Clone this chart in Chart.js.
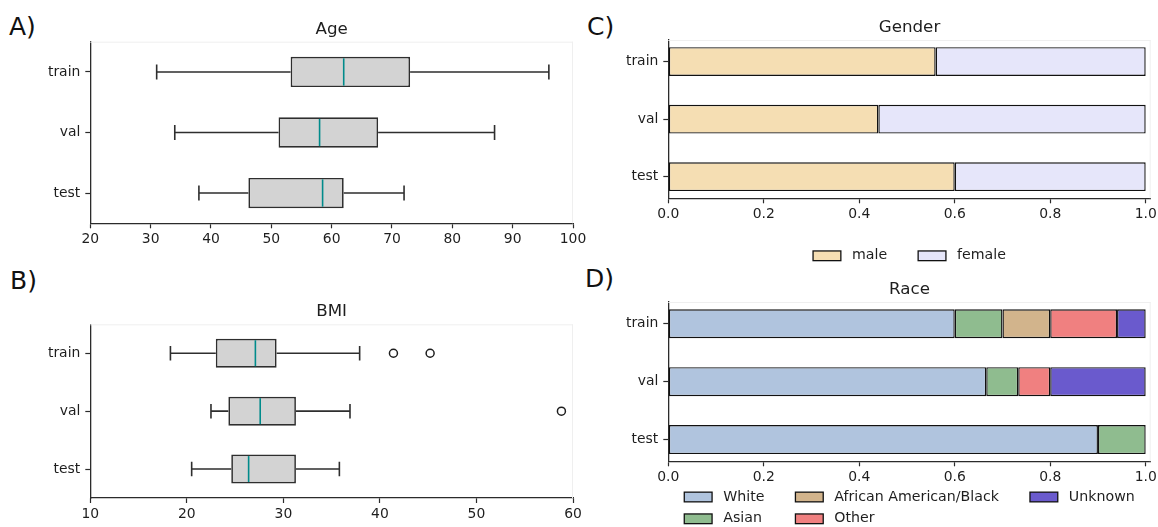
<!DOCTYPE html>
<html>
<head>
<meta charset="utf-8">
<script src="https://cdn.jsdelivr.net/npm/chart.js@4/dist/chart.umd.min.js"></script>
<style>
  html, body { margin: 0; padding: 0; background: #ffffff; }
  body { position: relative; width: 1158px; height: 527px; overflow: hidden; }
  canvas { position: absolute; }
  .lbl { position: absolute; font-family: "DejaVu Sans", sans-serif; font-size: 25px; line-height: 25px; color: #111; white-space: nowrap; }
</style>
</head>
<body>
<div class="lbl" style="left:9px; top:14px;">A)</div>
<div class="lbl" style="left:10px; top:267.5px;">B)</div>
<div class="lbl" style="left:587px; top:14px;">C)</div>
<div class="lbl" style="left:585px; top:266px;">D)</div>
<canvas id="cA" width="600" height="260" style="left:0px; top:0px;"></canvas>
<canvas id="cB" width="600" height="267" style="left:0px; top:260px;"></canvas>
<canvas id="cC" width="558" height="270" style="left:600px; top:0px;"></canvas>
<canvas id="cD" width="558" height="257" style="left:600px; top:270px;"></canvas>
<script>
// ---------------- DATA ----------------
const cats = ['train', 'val', 'test'];

// A) Age box plot statistics
const ageMin = [31, 34, 38];
const ageQ1  = [53.2, 51.2, 46.2];
const ageMed = [62.0, 58.0, 58.5];
const ageQ3  = [73.0, 67.7, 62.0];
const ageMax = [96, 87, 72];
const ageTicks = [20, 30, 40, 50, 60, 70, 80, 90, 100];

// B) BMI box plot statistics
const bmiMin = [18.3, 22.5, 20.5];
const bmiQ1  = [23.0, 24.3, 24.6];
const bmiMed = [27.1, 27.6, 26.4];
const bmiQ3  = [29.3, 31.3, 31.3];
const bmiMax = [37.9, 36.9, 35.8];
const bmiOutlierValues = [41.4, 45.2, 58.8];
const bmiOutlierCats   = ['train', 'train', 'val'];
const bmiTicks = [10, 20, 30, 40, 50, 60];

// C) Gender shares
const genderNames = ['male', 'female'];
const maleShare   = [0.56, 0.44, 0.60];
const femaleShare = [0.44, 0.56, 0.40];

// D) Race shares
const raceNames = ['White', 'Asian', 'African American/Black', 'Other', 'Unknown'];
const whiteShare   = [0.60, 0.666, 0.90];
const asianShare   = [0.10, 0.067, 0.10];
const blackShare   = [0.10, 0.0, 0.0];
const otherShare   = [0.14, 0.067, 0.0];
const unknownShare = [0.06, 0.20, 0.0];
const fracTicks = [0, 0.2, 0.4, 0.6, 0.8, 1.0];

// ---------------- STYLE ----------------
const FAMILY = '"DejaVu Sans", sans-serif';
const TICK_PX = 13.9;
const LEGEND_PX = 14.2;
const TITLE_PX = 16.7;
const SPINE = '#2b2b2b';
const TEXT = '#1e1e1e';

// ---------------- PLUGINS ----------------
function titlePlugin(text) {
  return {
    id: 'panelTitle',
    afterDraw(chart) {
      const { ctx, chartArea } = chart;
      ctx.save();
      ctx.font = TITLE_PX + 'px ' + FAMILY;
      ctx.fillStyle = TEXT;
      ctx.textAlign = 'center';
      ctx.textBaseline = 'alphabetic';
      ctx.fillText(text, (chartArea.left + chartArea.right) / 2, chartArea.top - 8);
      ctx.restore();
    }
  };
}

const faintFrame = {
  id: 'faintFrame',
  beforeDatasetsDraw(chart) {
    const { ctx, chartArea } = chart;
    ctx.save();
    ctx.strokeStyle = '#efefef';
    ctx.lineWidth = 1;
    ctx.beginPath();
    ctx.moveTo(chartArea.left, chartArea.top + 0.5);
    ctx.lineTo(chartArea.right, chartArea.top + 0.5);
    ctx.moveTo(chartArea.right - 0.5, chartArea.top);
    ctx.lineTo(chartArea.right - 0.5, chartArea.bottom);
    ctx.stroke();
    ctx.restore();
  }
};

function boxPlugin(low, q1, med, q3, high) {
  return {
    id: 'boxWhiskers',
    afterDatasetsDraw(chart) {
      const xs = chart.scales.x;
      const meta = chart.getDatasetMeta(0);
      const ctx = chart.ctx;
      ctx.save();
      low.forEach((lo, i) => {
        const el = meta.data[i];
        const y = el.y, h = el.height;
        const pLo = xs.getPixelForValue(lo);
        const pQ1 = xs.getPixelForValue(q1[i]);
        const pQ3 = xs.getPixelForValue(q3[i]);
        const pHi = xs.getPixelForValue(high[i]);
        const pMd = xs.getPixelForValue(med[i]);
        ctx.strokeStyle = '#2e2e2e';
        ctx.lineWidth = 1.6;
        ctx.beginPath();
        ctx.moveTo(pQ1, y); ctx.lineTo(pLo, y);
        ctx.moveTo(pQ3, y); ctx.lineTo(pHi, y);
        ctx.moveTo(pLo, y - h / 4); ctx.lineTo(pLo, y + h / 4);
        ctx.moveTo(pHi, y - h / 4); ctx.lineTo(pHi, y + h / 4);
        ctx.stroke();
        ctx.strokeStyle = '#008b8b';
        ctx.lineWidth = 1.6;
        ctx.beginPath();
        ctx.moveTo(pMd, y - h / 2 + 1.5); ctx.lineTo(pMd, y + h / 2 - 1.5);
        ctx.stroke();
      });
      ctx.restore();
    }
  };
}

function mplLegend(ncol, firstRowOffset, rowGap) {
  return {
    id: 'mplLegend',
    afterDraw(chart) {
      const { ctx, chartArea } = chart;
      const ds = chart.data.datasets;
      const n = ds.length;
      const nrows = Math.ceil(n / ncol);
      const HL = 27.8, HH = 9.7, TP = 11.1, CS = 31;
      ctx.save();
      ctx.font = LEGEND_PX + 'px ' + FAMILY;
      const colW = [];
      for (let c = 0; c < ncol; c++) {
        let m = 0;
        for (let r = 0; r < nrows; r++) {
          const k = c * nrows + r;
          if (k < n) m = Math.max(m, ctx.measureText(ds[k].label).width);
        }
        colW.push(HL + TP + m);
      }
      const total = colW.reduce((a, b) => a + b, 0) + CS * (ncol - 1);
      let x = (chartArea.left + chartArea.right) / 2 - total / 2;
      for (let c = 0; c < ncol; c++) {
        for (let r = 0; r < nrows; r++) {
          const k = c * nrows + r;
          if (k >= n) continue;
          const y = chartArea.bottom + firstRowOffset + r * rowGap;
          ctx.fillStyle = ds[k].backgroundColor;
          ctx.fillRect(x, y - HH / 2, HL, HH);
          ctx.strokeStyle = '#111';
          ctx.lineWidth = 1.3;
          ctx.strokeRect(x, y - HH / 2, HL, HH);
          ctx.fillStyle = TEXT;
          ctx.textAlign = 'left';
          ctx.textBaseline = 'middle';
          ctx.fillText(ds[k].label, x + HL + TP, y);
        }
        x += colW[c] + CS;
      }
      ctx.restore();
    }
  };
}

// ---------------- SCALE BUILDERS ----------------
function xScale(min, max, tickValues, fitHeight, fmt) {
  return {
    type: 'linear',
    position: 'bottom',
    min: min,
    max: max,
    border: { display: true, color: SPINE, width: 1.3 },
    grid: { display: true, drawOnChartArea: false, drawTicks: true, tickLength: 5, tickColor: SPINE, tickWidth: 1.2 },
    ticks: {
      font: { family: FAMILY, size: TICK_PX },
      color: TEXT,
      padding: 3,
      maxRotation: 0,
      autoSkip: false,
      callback: fmt
    },
    afterBuildTicks: (s) => { s.ticks = tickValues.map(v => ({ value: v })); },
    afterFit: (s) => { s.height = fitHeight; s.paddingLeft = 0; s.paddingRight = 0; }
  };
}

function yCategory(fitWidth) {
  return {
    type: 'category',
    offset: true,
    border: { display: true, color: SPINE, width: 1.3 },
    grid: { display: true, offset: false, drawOnChartArea: false, drawTicks: true, tickLength: 5, tickColor: SPINE, tickWidth: 1.2 },
    ticks: { font: { family: FAMILY, size: TICK_PX }, color: TEXT, padding: 5 },
    afterFit: (s) => { s.width = fitWidth; s.paddingTop = 0; s.paddingBottom = 0; }
  };
}

function yIndexLinear(fitWidth) {
  return {
    type: 'linear',
    reverse: true,
    offset: false,
    min: -0.375,
    max: 2.375,
    stacked: true,
    border: { display: true, color: SPINE, width: 1.3 },
    grid: { display: true, offset: false, drawOnChartArea: false, drawTicks: true, tickLength: 5, tickColor: SPINE, tickWidth: 1.2 },
    ticks: { font: { family: FAMILY, size: TICK_PX }, color: TEXT, padding: 5, autoSkip: false, callback: (v) => cats[v] },
    afterBuildTicks: (s) => { s.ticks = cats.map((c, i) => ({ value: i })); },
    afterFit: (s) => { s.width = fitWidth; s.paddingTop = 0; s.paddingBottom = 0; }
  };
}

const baseOptions = {
  responsive: false,
  animation: false,
  indexAxis: 'y',
  events: [],
};

// ---------------- CHART A: Age ----------------
new Chart(document.getElementById('cA'), {
  type: 'bar',
  data: {
    labels: cats,
    datasets: [{
      label: 'Age',
      data: ageQ1.map((q, i) => [q, ageQ3[i]]),
      backgroundColor: '#d3d3d3',
      borderColor: '#2e2e2e',
      borderWidth: 1.7,
      borderSkipped: false,
      barPercentage: 0.5,
      categoryPercentage: 1.0
    }]
  },
  options: Object.assign({}, baseOptions, {
    layout: { padding: { top: 41.7, right: 27, left: 0, bottom: 0 } },
    plugins: { legend: { display: false }, tooltip: { enabled: false } },
    scales: {
      x: xScale(20, 100, ageTicks, 36.7, (v) => String(v)),
      y: yCategory(90.3)
    }
  }),
  plugins: [faintFrame, boxPlugin(ageMin, ageQ1, ageMed, ageQ3, ageMax), titlePlugin('Age')]
});

// ---------------- CHART B: BMI ----------------
new Chart(document.getElementById('cB'), {
  type: 'bar',
  data: {
    labels: cats,
    datasets: [{
      label: 'BMI',
      data: bmiQ1.map((q, i) => [q, bmiQ3[i]]),
      backgroundColor: '#d3d3d3',
      borderColor: '#2e2e2e',
      borderWidth: 1.7,
      borderSkipped: false,
      barPercentage: 0.5,
      categoryPercentage: 1.0
    }, {
      type: 'scatter',
      label: 'outliers',
      data: bmiOutlierValues.map((v, i) => ({ x: v, y: bmiOutlierCats[i] })),
      showLine: false,
      pointRadius: 4,
      pointBackgroundColor: 'rgba(0,0,0,0)',
      pointBorderColor: '#1e1e1e',
      pointBorderWidth: 1.5
    }]
  },
  options: Object.assign({}, baseOptions, {
    layout: { padding: { top: 64.3, right: 27, left: 0, bottom: 0 } },
    plugins: { legend: { display: false }, tooltip: { enabled: false } },
    scales: {
      x: xScale(10, 60, bmiTicks, 29, (v) => String(v)),
      y: yCategory(90.3)
    }
  }),
  plugins: [faintFrame, boxPlugin(bmiMin, bmiQ1, bmiMed, bmiQ3, bmiMax), titlePlugin('BMI')]
});

// ---------------- CHART C: Gender ----------------
function stackDs(label, values, color) {
  return {
    label: label,
    data: values.map((v, i) => ({ x: v, y: i })),
    backgroundColor: color,
    borderColor: '#111111',
    borderWidth: 1.4,
    borderSkipped: false,
    barPercentage: 0.5,
    categoryPercentage: 1.0
  };
}

const genderColors = ['#f5deb3', '#e6e6fa'];
new Chart(document.getElementById('cC'), {
  type: 'bar',
  data: {
    datasets: [
      stackDs(genderNames[0], maleShare, genderColors[0]),
      stackDs(genderNames[1], femaleShare, genderColors[1])
    ]
  },
  options: Object.assign({}, baseOptions, {
    layout: { padding: { top: 40, right: 7.3, left: 0, bottom: 0 } },
    plugins: { legend: { display: false }, tooltip: { enabled: false } },
    scales: {
      x: Object.assign(xScale(0, 1.0105, fracTicks, 71.7, (v) => Number(v).toFixed(1)), { stacked: true }),
      y: yIndexLinear(68.3)
    }
  }),
  plugins: [faintFrame, titlePlugin('Gender'), mplLegend(2, 57.5, 21.8)]
});

// ---------------- CHART D: Race ----------------
const raceColors = ['#b0c4de', '#8fbc8f', '#d2b48c', '#f08080', '#6a5acd'];
const raceValues = [whiteShare, asianShare, blackShare, otherShare, unknownShare];
new Chart(document.getElementById('cD'), {
  type: 'bar',
  data: {
    datasets: raceNames.map((n, k) => stackDs(n, raceValues[k], raceColors[k]))
  },
  options: Object.assign({}, baseOptions, {
    layout: { padding: { top: 32, right: 7.3, left: 0, bottom: 0 } },
    plugins: { legend: { display: false }, tooltip: { enabled: false } },
    scales: {
      x: Object.assign(xScale(0, 1.0105, fracTicks, 65.7, (v) => Number(v).toFixed(1)), { stacked: true }),
      y: yIndexLinear(68.3)
    }
  }),
  plugins: [faintFrame, titlePlugin('Race'), mplLegend(3, 35.7, 21.8)]
});
</script>
</body>
</html>
